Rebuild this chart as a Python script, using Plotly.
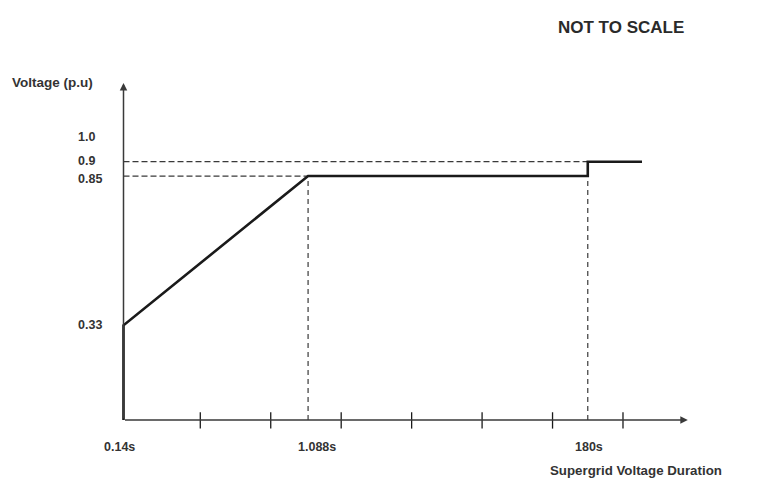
import plotly.graph_objects as go

# ---- data (schematic, NOT TO SCALE) ----
time_labels = ["0.14s", "1.088s", "180s"]
time_pos = [0.0, 2.62, 6.59]          # schematic positions along the time axis
curve_end_pos = 7.36                  # where the 0.9 p.u. line stops
axis_tick_pos = [1.09, 2.09, 3.09, 4.09, 5.09, 6.09, 7.09]
volt_labels = ["1.0", "0.9", "0.85", "0.33"]
volt_values = [1.0, 0.9, 0.85, 0.33]

# curve: 0 -> 0.33 at 0.14s, ramp to 0.85 at 1.088s, hold to 180s, step to 0.9
curve_x = [time_pos[0], time_pos[0], time_pos[1], time_pos[2], time_pos[2], curve_end_pos]
curve_y = [0.0, 0.33, 0.85, 0.85, 0.9, 0.9]

# ---- layout geometry (pixels, page has an 8px body margin) ----
W, H = 771, 502
OFF = 8
PX_X = 70.45          # px per schematic unit
X0_PX = 123.5 - OFF   # px of the origin
PX_Y = 287.0          # px per p.u.
Y0_PX = 420.0 - OFF   # px of the origin from the top

x_range = [-X0_PX / PX_X, (W - X0_PX) / PX_X]
y_range = [-(H - Y0_PX) / PX_Y, Y0_PX / PX_Y]


def px(xp, yp):
    return (xp - OFF) / W, 1 - (yp - OFF) / H


INK = "#1a1a1a"
TXT = "#333333"
FONT = "Liberation Sans, Arial, sans-serif"
DASH = dict(color="#3a3a3a", width=1.2, dash="6px,3px")

fig = go.Figure()

# dashed reference lines
fig.add_trace(go.Scatter(x=[0, time_pos[2]], y=[0.9, 0.9], mode="lines", line=DASH, hoverinfo="skip"))
fig.add_trace(go.Scatter(x=[0, time_pos[1]], y=[0.85, 0.85], mode="lines", line=DASH, hoverinfo="skip"))
fig.add_trace(go.Scatter(x=[time_pos[1], time_pos[1]], y=[0, 0.85], mode="lines",
                         line=dict(color="#3a3a3a", width=1.2, dash="5px,4px"), hoverinfo="skip"))
fig.add_trace(go.Scatter(x=[time_pos[2], time_pos[2]], y=[0, 0.85], mode="lines",
                         line=dict(color="#3a3a3a", width=1.2, dash="5px,4px"), hoverinfo="skip"))

# tick marks on the time axis
for tx in axis_tick_pos:
    fig.add_trace(go.Scatter(x=[tx, tx], y=[-0.03, 0.027], mode="lines",
                             line=dict(color=INK, width=1.3), hoverinfo="skip"))

# main curve
fig.add_trace(go.Scatter(x=curve_x, y=curve_y, mode="lines",
                         line=dict(color=INK, width=2.6), hoverinfo="skip"))

annotations = []
# axes with arrows
annotations.append(dict(x=8.01, y=0, ax=0, ay=0, xref="x", yref="y", axref="x", ayref="y",
                        text="", showarrow=True, arrowhead=2, arrowsize=1, arrowwidth=1.5,
                        arrowcolor="#3a3a3a", standoff=0))
annotations.append(dict(x=0, y=(420 - 83) / PX_Y, ax=0, ay=0, xref="x", yref="y",
                        axref="x", ayref="y", text="", showarrow=True, arrowhead=2,
                        arrowsize=1, arrowwidth=1.5, arrowcolor="#3a3a3a", standoff=0))

# voltage labels
v_shift = [-4, 1, -3, 0]
for lab, v, s in zip(volt_labels, volt_values, v_shift):
    annotations.append(dict(x=(76 - 123.5) / PX_X, y=v, xref="x", yref="y", text=f"<b>{lab}</b>",
                            showarrow=False, xanchor="left", yanchor="middle", yshift=s,
                            font=dict(family=FONT, size=12.5, color=TXT)))

# time labels
t_shift = [-4, 9, 1]
for lab, t, s in zip(time_labels, time_pos, t_shift):
    annotations.append(dict(x=t, y=0, xref="x", yref="y", text=f"<b>{lab}</b>", showarrow=False,
                            xanchor="center", yanchor="middle", yshift=-27, xshift=s,
                            font=dict(family=FONT, size=12.5, color=TXT)))

# titles
x, y = px(52, 83)
annotations.append(dict(x=x, y=y, xref="paper", yref="paper",
                        text="<b>Voltage (p.u)</b>", showarrow=False, xanchor="center",
                        yanchor="middle", font=dict(family=FONT, size=13.5, color=TXT)))
x, y = px(636, 470)
annotations.append(dict(x=x, y=y, xref="paper", yref="paper",
                        text="<b>Supergrid Voltage Duration</b>", showarrow=False,
                        xanchor="center", yanchor="middle", font=dict(family=FONT, size=13.3, color=TXT)))
x, y = px(621, 28)
annotations.append(dict(x=x, y=y, xref="paper", yref="paper",
                        text="<b>NOT TO SCALE</b>", showarrow=False, xanchor="center",
                        yanchor="middle", font=dict(family=FONT, size=17, color="#2a2a2a")))

fig.update_layout(
    width=W, height=H,
    margin=dict(l=0, r=0, t=0, b=0),
    paper_bgcolor="white", plot_bgcolor="white",
    showlegend=False,
    xaxis=dict(range=x_range, visible=False, fixedrange=True),
    yaxis=dict(range=y_range, visible=False, fixedrange=True),
    annotations=annotations,
)

fig.write_html("out.html")
